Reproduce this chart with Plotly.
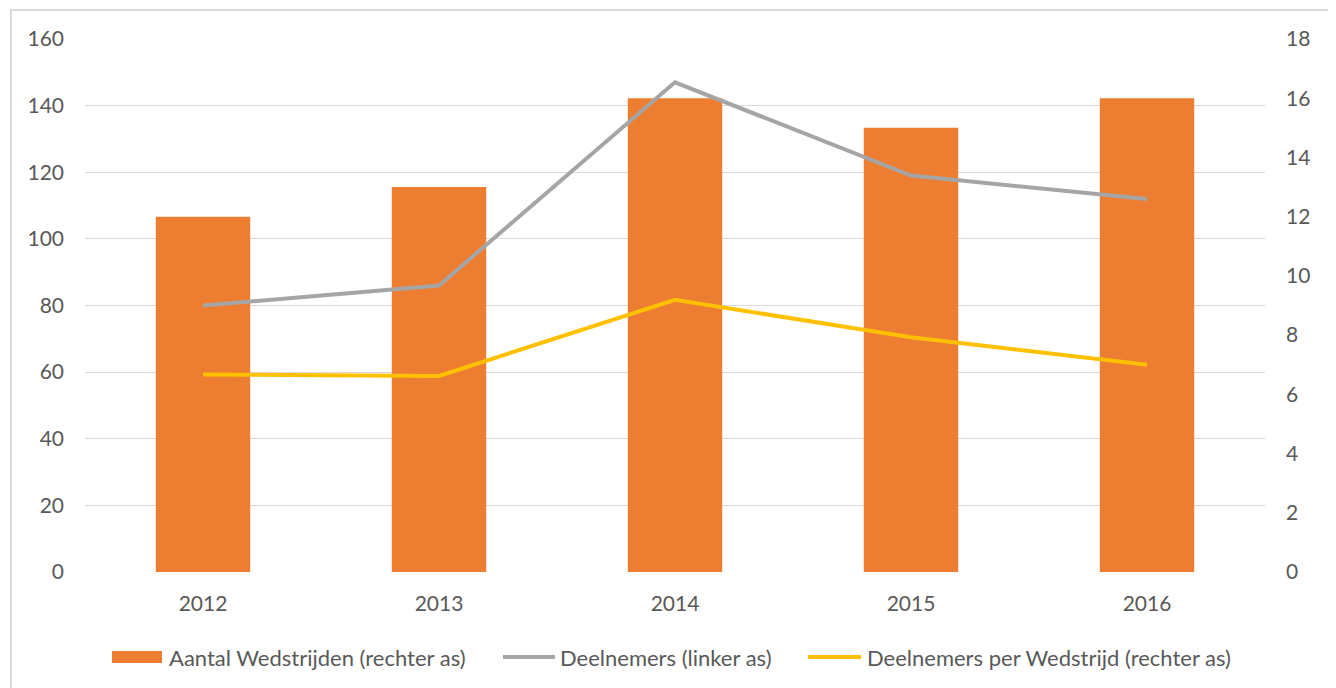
import plotly.graph_objects as go

years = ["2012", "2013", "2014", "2015", "2016"]
wedstrijden = [12, 13, 16, 15, 16]
deelnemers = [80, 86, 147, 119, 112]
per_wedstrijd = [6.67, 6.62, 9.19, 7.93, 7.0]

names = ["Aantal Wedstrijden (rechter as)", "Deelnemers (linker as)",
         "Deelnemers per Wedstrijd (rechter as)"]
colors = ["#ED7D31", "#A5A5A5", "#FFC000"]

FONT = "Lato"
TXT = "#595959"

W, H = 1328, 680
ML, MR, MT, MB = 77, 71, 31, 116
PW, PH = W - ML - MR, H - MT - MB
OFF = 8  # page body margin


def px(sx):
    return (sx - OFF - ML) / PW


def py(sy):
    return (H - MB - (sy - OFF)) / PH


fig = go.Figure()
fig.add_trace(go.Bar(x=years, y=wedstrijden, name=names[0],
                     marker=dict(color=colors[0], line=dict(width=0)), yaxis="y"))
fig.add_trace(go.Scatter(x=years, y=deelnemers, name=names[1], mode="lines",
                         line=dict(color=colors[1], width=4), yaxis="y2"))
fig.add_trace(go.Scatter(x=years, y=per_wedstrijd, name=names[2],
                         mode="lines", line=dict(color=colors[2], width=4), yaxis="y"))

# legend built by hand (wide keys like the reference)
leg_y = 657
key_x = [(112, 162), (503, 555), (808, 861)]
text_x = [168, 559, 866]
shapes = [dict(type="rect", xref="paper", yref="paper", x0=px(3 + OFF), x1=px(1322 + OFF),
               y0=-0.3, y1=py(10), line=dict(color="#D9D9D9", width=2), layer="below")]
shapes.append(dict(type="rect", xref="paper", yref="paper", x0=px(key_x[0][0]), x1=px(key_x[0][1]),
                   y0=py(663), y1=py(651), fillcolor=colors[0], line=dict(width=0)))
for i in (1, 2):
    shapes.append(dict(type="line", xref="paper", yref="paper", x0=px(key_x[i][0]), x1=px(key_x[i][1]),
                       y0=py(leg_y), y1=py(leg_y), line=dict(color=colors[i], width=4)))
annotations = [dict(xref="paper", yref="paper", x=px(text_x[i]), y=py(leg_y), text=names[i],
                    showarrow=False, xanchor="left", yanchor="middle",
                    font=dict(family=FONT, size=22, color=TXT), borderpad=0)
               for i in range(3)]

fig.update_layout(
    width=W, height=H,
    margin=dict(l=ML, r=MR, t=MT, b=MB),
    paper_bgcolor="white", plot_bgcolor="white",
    font=dict(family=FONT, size=21, color=TXT),
    bargap=0.6, showlegend=False,
    xaxis=dict(showgrid=False, showline=False, ticks="", ticklabelstandoff=17,
               tickfont=dict(size=21, color=TXT)),
    yaxis=dict(range=[0, 18], dtick=2, side="right", showgrid=False,
               zeroline=False, showline=False, ticks="", ticklabelstandoff=20,
               tickfont=dict(size=21, color=TXT)),
    yaxis2=dict(range=[0, 160], dtick=20, overlaying="y", side="left", showgrid=True,
                gridcolor="#D9D9D9", gridwidth=1,
                zeroline=False, showline=False, ticks="", ticklabelstandoff=20,
                tickfont=dict(size=21, color=TXT)),
    shapes=shapes,
    annotations=annotations,
)
fig.write_html("out.html")
